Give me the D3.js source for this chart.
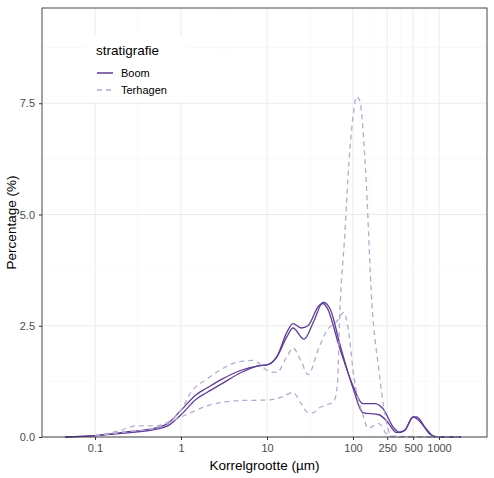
<!DOCTYPE html><html><head><meta charset="utf-8"><script src="https://cdn.jsdelivr.net/npm/d3@7"></script>
<style>body{margin:0;background:#fff}text{font-family:"Liberation Sans",Arial,sans-serif}</style></head><body><svg id="c" width="494" height="478"></svg>
<script>
const xTicks=[0.1,1,10,100,250,500,1000];
const yTicks=[0,2.5,5,7.5];
const boomA=[[0.045,0],[0.1,0.03],[0.2,0.1],[0.5,0.2],[0.7,0.3],[1,0.6],[1.5,0.95],[2,1.1],[3,1.3],[5,1.5],[8,1.6],[10,1.62],[13,1.8],[17,2.35],[20,2.55],[25,2.45],[30,2.5],[40,2.95],[45,3.0],[50,2.9],[70,2.0],[100,1.15],[130,0.75],[180,0.75],[220,0.65],[300,0.2],[350,0.1],[400,0.15],[500,0.45],[550,0.45],[700,0.2],[900,0],[1800,0]];
const boomB=[[0.045,0],[0.1,0.03],[0.2,0.08],[0.5,0.17],[0.7,0.25],[1,0.5],[1.5,0.85],[2,1.0],[3,1.2],[5,1.45],[8,1.6],[10,1.62],[13,1.8],[17,2.25],[20,2.45],[27,2.2],[35,2.6],[45,3.03],[55,2.85],[70,2.1],[100,1.1],[130,0.55],[200,0.5],[250,0.35],[320,0.1],[400,0.15],[500,0.45],[600,0.35],[800,0.05],[1000,0],[1800,0]];
const terA=[[0.1,0.03],[0.2,0.15],[0.3,0.25],[0.5,0.25],[1,0.6],[1.3,1.0],[2,1.3],[5,1.7],[7,1.72],[10,1.5],[13,1.45],[17,1.8],[20,2.0],[25,1.7],[30,1.4],[40,2.0],[50,2.4],[65,2.6],[78,2.8],[90,2.3],[100,1.5],[130,0.5],[150,0.2],[200,0.3],[250,0.05],[300,0],[1800,0]];
const terB=[[0.1,0.03],[0.2,0.1],[0.5,0.2],[1,0.45],[1.5,0.6],[2,0.7],[5,0.82],[10,0.83],[15,0.9],[20,1.0],[25,0.75],[30,0.55],[35,0.55],[40,0.65],[50,0.72],[60,0.8],[66,1.2],[70,2.7],[80,4.5],[90,6.2],[100,7.2],[110,7.65],[120,7.55],[140,6.0],[166,3.0],[200,1.5],[236,0.5],[280,0.02],[1800,0]];
const series=[{n:"Boom",d:boomA},{n:"Boom",d:boomB},{n:"Terhagen",d:terA},{n:"Terhagen",d:terB}];
const col={Boom:"#5e3c99",Terhagen:"#b2abd2"};
const svg=d3.select("#c");
const L=42,R=487,T=8,B=437;
const x=d3.scaleLog().domain([10**((L-181)/86),10**((R-181)/86)]).range([L,R]);
const y=d3.scaleLinear().domain([0,(B-T)/44.5]).range([B,T]);
const g=svg.append("g");
// minor grid
const lt=xTicks.map(Math.log10);
for(let i=0;i<lt.length-1;i++){g.append("line").attr("x1",x(10**((lt[i]+lt[i+1])/2))).attr("x2",x(10**((lt[i]+lt[i+1])/2))).attr("y1",T).attr("y2",B).attr("stroke","#f2f2f2").attr("stroke-width",0.5);}
[1.25,3.75,6.25,8.75].forEach(v=>{if(y(v)>T)g.append("line").attr("x1",L).attr("x2",R).attr("y1",y(v)).attr("y2",y(v)).attr("stroke","#f2f2f2").attr("stroke-width",0.5)});
xTicks.forEach(v=>g.append("line").attr("x1",x(v)).attr("x2",x(v)).attr("y1",T).attr("y2",B).attr("stroke","#ebebeb"));
yTicks.forEach(v=>g.append("line").attr("x1",L).attr("x2",R).attr("y1",y(v)).attr("y2",y(v)).attr("stroke","#ebebeb"));
const line=d3.line().x(d=>x(d[0])).y(d=>y(d[1])).curve(d3.curveMonotoneX);
series.forEach(s=>svg.append("path").attr("d",line(s.d)).attr("fill","none").attr("stroke",col[s.n]).attr("stroke-width",1.3).attr("stroke-dasharray",s.n=="Terhagen"?"5,4":null));
svg.append("rect").attr("x",L).attr("y",T).attr("width",R-L).attr("height",B-T).attr("fill","none").attr("stroke","#333").attr("stroke-width",0.9);
const xa=svg.append("g").attr("transform",`translate(0,${B})`).call(d3.axisBottom(x).tickValues(xTicks).tickFormat(d=>String(d)).tickSize(3).tickPadding(4));
const ya=svg.append("g").attr("transform",`translate(${L},0)`).call(d3.axisLeft(y).tickValues(yTicks).tickFormat(d3.format(".1f")).tickSize(3).tickPadding(4));
[xa,ya].forEach(a=>{a.select(".domain").remove();a.selectAll("line").attr("stroke","#333");a.selectAll("text").attr("fill","#4d4d4d").attr("font-size",11);});
svg.append("text").attr("x",(L+R)/2).attr("y",470).attr("text-anchor","middle").attr("font-size",13.5).attr("fill","#000").text("Korrelgrootte (µm)");
svg.append("text").attr("transform",`translate(16,${(T+B)/2}) rotate(-90)`).attr("text-anchor","middle").attr("font-size",13.5).text("Percentage (%)");
const lg=svg.append("g");
lg.append("rect").attr("x",86).attr("y",36).attr("width",100).attr("height",66).attr("fill","#fff");
lg.append("text").attr("x",96).attr("y",55).attr("font-size",13.5).text("stratigrafie");
["Boom","Terhagen"].forEach((n,i)=>{const yy=73+i*17;lg.append("line").attr("x1",97).attr("x2",113).attr("y1",yy).attr("y2",yy).attr("stroke",col[n]).attr("stroke-width",1.5).attr("stroke-dasharray",n=="Terhagen"?"5,4":null);lg.append("text").attr("x",121).attr("y",yy+4).attr("font-size",11).text(n);});
</script></body></html>
